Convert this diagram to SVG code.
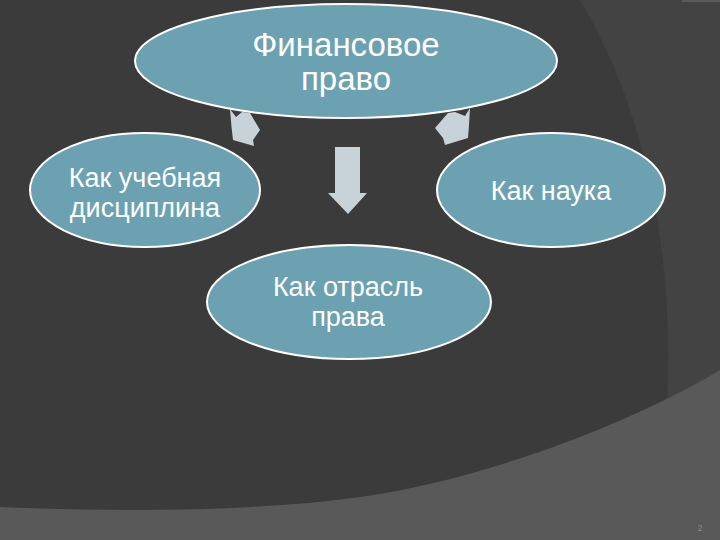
<svg xmlns="http://www.w3.org/2000/svg" width="720" height="540" viewBox="0 0 720 540">
  <style>
    .node { fill: #6ca1b2; stroke: #ffffff; stroke-width: 2; }
    .lbl { fill: #ffffff; font-family: "Liberation Sans", Arial, sans-serif; text-anchor: middle; }
    .arrow { fill: #c7d3d9; stroke: none; }
  </style>
  <g id="background">
    <rect x="0" y="0" width="720" height="540" fill="#3b3b3b"/>
    <path d="M580,0 C640,100 680,250 665,430 L720,430 L720,0 Z" fill="#434343"/>
    <rect x="682" y="0" width="38" height="2" fill="#5a5a5a"/>
    <path d="M0,507 C120,512 250,512 360,497 S620,430 720,370 L720,540 L0,540 Z" fill="#595959"/>
    <text x="700" y="531" font-family="Liberation Sans, Arial, sans-serif" font-size="9" fill="#8a8a8a" text-anchor="middle">2</text>
  </g>
  <g id="connectors">
    <polygon class="arrow" points="230,109 236,117 242,112 250,113 260,130 253,140 254,146 233,140 231.5,127"/>
    <polygon class="arrow" points="470,108 465,116 455,112 448,113 435,128 443,138 445,145 468,138 469,125"/>
    <polygon class="arrow" points="335,147 360,147 360,193 367,193 348,214 328,193 335,193"/>
  </g>
  <g id="node-top">
    <ellipse class="node" cx="346" cy="61" rx="211" ry="57"/>
    <text class="lbl" x="346" y="56" font-size="33">Финансовое</text>
    <text class="lbl" x="346" y="90" font-size="33">право</text>
  </g>
  <g id="node-left">
    <ellipse class="node" cx="145" cy="190" rx="115" ry="57"/>
    <text class="lbl" x="145" y="187" font-size="27">Как учебная</text>
    <text class="lbl" x="145" y="217" font-size="27">дисциплина</text>
  </g>
  <g id="node-right">
    <ellipse class="node" cx="551" cy="190" rx="114" ry="57"/>
    <text class="lbl" x="551" y="200" font-size="27">Как наука</text>
  </g>
  <g id="node-bottom">
    <ellipse class="node" cx="349" cy="302" rx="142" ry="57"/>
    <text class="lbl" x="348" y="296" font-size="27">Как отрасль</text>
    <text class="lbl" x="348" y="326" font-size="27">права</text>
  </g>
</svg>
